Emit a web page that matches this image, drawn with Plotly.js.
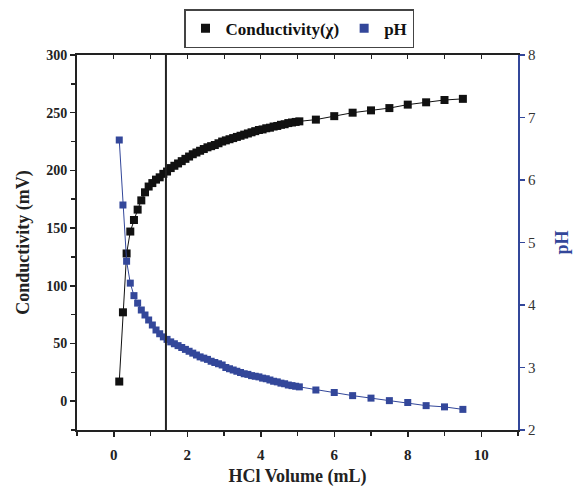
<!DOCTYPE html>
<html>
<head>
<meta charset="utf-8">
<script src="https://cdn.plot.ly/plotly-3.0.1.min.js"></script>
<style>html,body{margin:0;padding:0;background:#fff;}#chart{width:575px;height:487px;}</style>
</head>
<body>
<div id="chart"></div>
<script>
// HCl volume (mL)
const volume = [0.15,0.25,0.35,0.45,0.55,0.65,0.75,0.85,0.95,1.05,1.15,1.25,1.35,1.45,1.55,1.65,1.75,1.85,1.95,2.05,2.15,2.25,2.35,2.45,2.55,2.65,2.75,2.85,2.95,3.05,3.15,3.25,3.35,3.45,3.55,3.65,3.75,3.85,3.95,4.05,4.15,4.25,4.35,4.45,4.55,4.65,4.75,4.85,4.95,5.05,5.5,6.0,6.5,7.0,7.5,8.0,8.5,9.0,9.5];
// Conductivity (mV)
const conductivity = [17,77,128,147,157,166,174,181,186,189,192,194,197,199,202,204,206,208,210,212,214,215.5,217,218.5,220,221,222,223.5,225,226,227,228,229,230,231,232,233,234,235,235.5,236.5,237,238,238.5,239.5,240,241,241.5,242,242.5,244,247,250,252,254,257,259,261,262];
// pH
const ph = [6.64,5.6,4.7,4.35,4.15,4.03,3.92,3.84,3.76,3.68,3.6,3.54,3.49,3.45,3.41,3.38,3.35,3.32,3.29,3.26,3.23,3.2,3.17,3.15,3.13,3.1,3.08,3.06,3.04,3.0,2.98,2.96,2.94,2.92,2.9,2.89,2.87,2.86,2.85,2.83,2.82,2.8,2.78,2.77,2.75,2.74,2.72,2.71,2.7,2.69,2.64,2.6,2.55,2.51,2.47,2.44,2.39,2.37,2.33];
// Equivalence line position (mL)
const equivalenceVolume = 1.42;
// Legend labels
const seriesNames = ['Conductivity(χ)', 'pH'];

const BLACK = '#111';
const BLUE = '#33479a';
const FONT = 'Liberation Serif, Times New Roman, serif';

const traces = [
  {x: volume, y: conductivity, type: 'scatter', mode: 'lines+markers', showlegend: false,
   line: {color: BLACK, width: 1}, marker: {symbol: 'square', size: 8, color: BLACK}, xaxis: 'x', yaxis: 'y'},
  {x: volume, y: ph, type: 'scatter', mode: 'lines+markers', showlegend: false,
   line: {color: BLUE, width: 1}, marker: {symbol: 'square', size: 7, color: BLUE}, xaxis: 'x', yaxis: 'y2'},
  {x: [null], y: [null], name: '<b>' + seriesNames[0] + '</b>', type: 'scatter', mode: 'markers',
   marker: {symbol: 'square', size: 9, color: BLACK}, xaxis: 'x', yaxis: 'y'},
  {x: [null], y: [null], name: '<b>' + seriesNames[1] + '</b>', type: 'scatter', mode: 'markers',
   marker: {symbol: 'square', size: 9, color: BLUE}, xaxis: 'x', yaxis: 'y2'},
  {x: [], y: [], xaxis: 'x2', yaxis: 'y', showlegend: false, hoverinfo: 'skip'}
];

const layout = {
  width: 575, height: 487,
  margin: {l: 77, r: 57, t: 55, b: 57},
  paper_bgcolor: '#fff', plot_bgcolor: '#fff',
  font: {family: FONT, color: '#222'},
  showlegend: true,
  legend: {orientation: 'h', xref: 'container', yref: 'container', x: 0.52, xanchor: 'center', y: 0.981, yanchor: 'top',
           bordercolor: '#444', borderwidth: 1.5, font: {family: FONT, size: 17, color: '#111'},
           itemwidth: 30, tracegroupgap: 0},
  xaxis: {range: [-1, 11], dtick: 2, tick0: 0, ticks: 'outside', ticklen: 5, tickwidth: 1.5, tickcolor: '#222',
          minor: {dtick: 1, ticks: 'outside', ticklen: 4, tickcolor: '#222'},
          showline: true, linecolor: '#222', linewidth: 2, mirror: true, showgrid: false, zeroline: false,
          ticklabelstandoff: 5,
          tickfont: {family: FONT, size: 15, color: '#222', weight: 'bold'},
          title: {text: '<b>HCl Volume (mL)</b>', font: {family: FONT, size: 18, color: '#222'}, standoff: 7}},
  xaxis2: {range: [-1, 11], overlaying: 'x', side: 'top', anchor: 'y', dtick: 1, tick0: 0, ticks: 'inside', ticklen: 4,
           tickcolor: '#222', showticklabels: false, showline: false, showgrid: false, zeroline: false},
  yaxis: {range: [-25, 300], dtick: 50, tick0: 0, ticks: 'outside', ticklen: 5, tickwidth: 1.5, tickcolor: '#222',
          minor: {dtick: 25, ticks: 'outside', ticklen: 4, tickcolor: '#222'},
          showline: true, linecolor: '#222', linewidth: 2, showgrid: false, zeroline: false,
          tickfont: {family: FONT, size: 14, color: '#222', weight: 'bold'},
          title: {text: '<b>Conductivity (mV)</b>', font: {family: FONT, size: 18, color: '#222'}, standoff: 12}},
  yaxis2: {range: [2, 8], dtick: 1, overlaying: 'y', side: 'right', anchor: 'x', ticks: 'outside', ticklen: 5,
           tickwidth: 1.5, tickcolor: BLUE, showline: true, linecolor: BLUE, linewidth: 2, showgrid: false, zeroline: false,
           tickfont: {family: FONT, size: 15, color: '#333'},
           title: {text: '<b>pH</b>', font: {family: FONT, size: 18, color: BLUE}, standoff: 20}},
  shapes: [{type: 'line', xref: 'x', yref: 'paper', x0: equivalenceVolume, x1: equivalenceVolume, y0: 0, y1: 1,
            line: {color: '#222', width: 2}}]
};

Plotly.newPlot('chart', traces, layout, {displayModeBar: false, staticPlot: true});
</script>
</body>
</html>
